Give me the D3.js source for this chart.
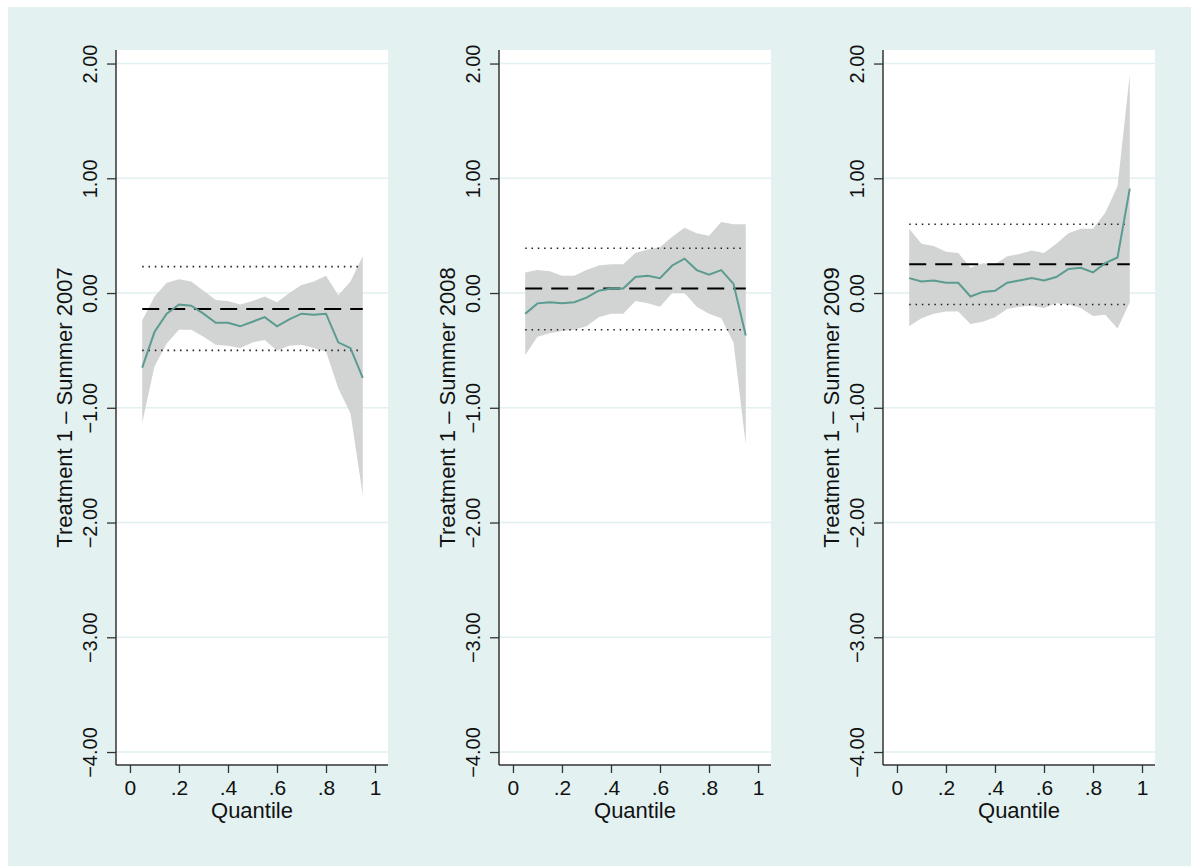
<!DOCTYPE html>
<html>
<head>
<meta charset="utf-8">
<script src="https://cdn.jsdelivr.net/npm/d3@7"></script>
<style>
  body { margin: 0; background: #fff; }
  svg { display: block; font-family: "Liberation Sans", Arial, sans-serif; }
</style>
</head>
<body>
<svg id="chart" width="1191" height="867"></svg>
<script>
// quantiles used in every panel
var quantiles = [.05, .10, .15, .20, .25, .30, .35, .40, .45, .50, .55, .60, .65, .70, .75, .80, .85, .90, .95];
var yTicks = [2, 1, 0, -1, -2, -3, -4];
var xTicks = [0, .2, .4, .6, .8, 1];
var titles = ["Treatment 1 \u2013 Summer 2007", "Treatment 1 \u2013 Summer 2008", "Treatment 1 \u2013 Summer 2009"];

// 2007
var est2007 = [-0.65, -0.34, -0.18, -0.10, -0.11, -0.18, -0.26, -0.26, -0.29, -0.25, -0.21, -0.29, -0.23, -0.18, -0.19, -0.18, -0.43, -0.48, -0.74];
var hi2007  = [-0.24, -0.03, 0.09, 0.12, 0.10, 0.02, -0.06, -0.07, -0.10, -0.07, -0.03, -0.08, 0.00, 0.07, 0.10, 0.15, -0.02, 0.10, 0.32];
var lo2007  = [-1.13, -0.64, -0.44, -0.32, -0.32, -0.38, -0.45, -0.46, -0.48, -0.43, -0.41, -0.50, -0.46, -0.45, -0.48, -0.51, -0.83, -1.05, -1.76];
// 2008
var est2008 = [-0.18, -0.09, -0.08, -0.09, -0.08, -0.04, 0.02, 0.04, 0.04, 0.14, 0.15, 0.13, 0.24, 0.30, 0.20, 0.16, 0.20, 0.08, -0.37];
var hi2008  = [0.18, 0.20, 0.19, 0.15, 0.15, 0.20, 0.24, 0.25, 0.25, 0.35, 0.38, 0.40, 0.49, 0.57, 0.52, 0.50, 0.62, 0.60, 0.60];
var lo2008  = [-0.54, -0.38, -0.35, -0.33, -0.32, -0.29, -0.21, -0.18, -0.18, -0.07, -0.09, -0.12, 0.00, 0.00, -0.12, -0.18, -0.22, -0.43, -1.32];
// 2009
var est2009 = [0.13, 0.10, 0.11, 0.09, 0.09, -0.03, 0.01, 0.02, 0.09, 0.11, 0.13, 0.11, 0.14, 0.21, 0.22, 0.18, 0.26, 0.31, 0.91];
var hi2009  = [0.56, 0.43, 0.41, 0.36, 0.35, 0.22, 0.26, 0.25, 0.32, 0.34, 0.37, 0.35, 0.43, 0.52, 0.56, 0.56, 0.70, 0.93, 1.90];
var lo2009  = [-0.29, -0.22, -0.18, -0.16, -0.16, -0.27, -0.25, -0.21, -0.14, -0.12, -0.11, -0.13, -0.09, -0.10, -0.13, -0.20, -0.19, -0.31, -0.08];

// mean effect (dashed) and its bounds (dotted)
var meanEff = [-0.14, 0.04, 0.25];
var meanHi  = [0.23, 0.39, 0.60];
var meanLo  = [-0.50, -0.32, -0.10];

var panels = [
  { est: est2007, hi: hi2007, lo: lo2007 },
  { est: est2008, hi: hi2008, lo: lo2008 },
  { est: est2009, hi: hi2009, lo: lo2009 }
];

var svg = d3.select("#chart");
var lefts = [116, 499, 883];
var pw = 272, plotTop = 50, plotBottom = 765;

svg.append("rect").attr("x", 8).attr("y", 7).attr("width", 1183).attr("height", 859)
  .attr("fill", "#e3f1f1");

var y = d3.scaleLinear().domain([2.118, -4.113]).range([plotTop, plotBottom]);
var fmtY = d3.format(".2f");
var fmtX = function(d) { return d == 0 || d == 1 ? String(d) : d3.format(".1f")(d).replace(/^0/, ""); };

panels.forEach(function(p, i) {
  var left = lefts[i];
  var x = d3.scaleLinear().domain([-0.057, 1.053]).range([left, left + pw]);
  var g = svg.append("g");

  g.append("rect").attr("x", left).attr("y", plotTop).attr("width", pw).attr("height", plotBottom - plotTop)
    .attr("fill", "#fff");

  // grid
  g.selectAll(".grid").data(yTicks).enter().append("line")
    .attr("x1", left).attr("x2", left + pw)
    .attr("y1", function(d) { return y(d); }).attr("y2", function(d) { return y(d); })
    .attr("stroke", "#e1f0f0").attr("stroke-width", 1.5);

  // confidence band
  var area = d3.area()
    .x(function(d, j) { return x(quantiles[j]); })
    .y0(function(d, j) { return y(p.lo[j]); })
    .y1(function(d) { return y(d); });
  g.append("path").datum(p.hi).attr("d", area).attr("fill", "#d2d3d3");

  // mean and its bounds
  var x0 = x(quantiles[0]), x1 = x(quantiles[quantiles.length - 1]);
  [meanHi[i], meanLo[i]].forEach(function(v) {
    g.append("line").attr("x1", x0).attr("x2", x1).attr("y1", y(v)).attr("y2", y(v))
      .attr("stroke", "#222").attr("stroke-width", 1.6).attr("stroke-dasharray", "1.5,4.8");
  });
  g.append("line").attr("x1", x0).attr("x2", x1).attr("y1", y(meanEff[i])).attr("y2", y(meanEff[i]))
    .attr("stroke", "#000").attr("stroke-width", 2).attr("stroke-dasharray", "17,9");

  // estimate
  var line = d3.line()
    .x(function(d, j) { return x(quantiles[j]); })
    .y(function(d) { return y(d); });
  g.append("path").datum(p.est).attr("d", line)
    .attr("fill", "none").attr("stroke", "#5b9b90").attr("stroke-width", 2);

  // y axis
  var yAxis = g.append("g").attr("transform", "translate(" + left + ",0)")
    .call(d3.axisLeft(y).tickValues(yTicks).tickSize(9).tickFormat(fmtY));
  yAxis.select(".domain").attr("d", "M0," + plotTop + "V" + plotBottom).attr("stroke", "#333").attr("stroke-width", 1.5);
  yAxis.selectAll(".tick line").attr("stroke", "#333").attr("stroke-width", 1.3);
  yAxis.selectAll(".tick text")
    .attr("x", 0).attr("y", 0).attr("dy", 0)
    .attr("transform", "translate(-19,0) rotate(-90)")
    .attr("text-anchor", "middle")
    .attr("font-size", 20).attr("font-family", "Liberation Sans, Arial, sans-serif").attr("fill", "#111");

  // x axis
  var xAxis = g.append("g").attr("transform", "translate(0," + plotBottom + ")")
    .call(d3.axisBottom(x).tickValues(xTicks).tickSize(8).tickFormat(fmtX));
  xAxis.select(".domain").attr("d", "M" + left + ",0H" + (left + pw)).attr("stroke", "#333").attr("stroke-width", 1.5);
  xAxis.selectAll(".tick line").attr("stroke", "#333").attr("stroke-width", 1.3);
  xAxis.selectAll(".tick text").attr("y", 30).attr("dy", 0)
    .attr("font-size", 21).attr("font-family", "Liberation Sans, Arial, sans-serif").attr("fill", "#111");

  // titles
  g.append("text").attr("x", left + pw / 2).attr("y", 818)
    .attr("text-anchor", "middle").attr("font-size", 22).attr("fill", "#111").text("Quantile");
  g.append("text").attr("transform", "translate(" + (left - 44) + "," + ((plotTop + plotBottom) / 2) + ") rotate(-90)")
    .attr("text-anchor", "middle").attr("font-size", 22).attr("fill", "#111").text(titles[i]);
});
</script>
</body>
</html>
